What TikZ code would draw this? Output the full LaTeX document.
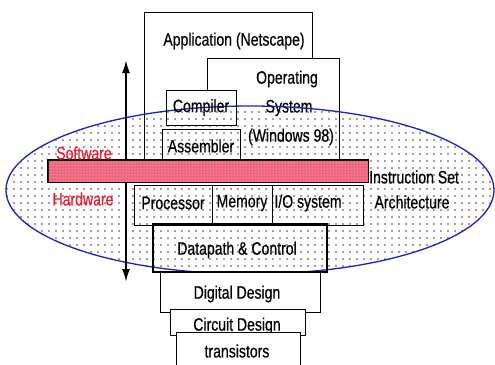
\documentclass[tikz,border=0pt]{standalone}
\usepackage{fontspec}
\setmainfont[FakeStretch=0.78, FakeBold=0.4]{Liberation Sans}
\usetikzlibrary{patterns.meta,arrows.meta}
\definecolor{ovalblue}{RGB}{30,30,200}
\definecolor{barpink}{RGB}{240,100,125}
\definecolor{labred}{RGB}{235,30,50}
\tikzset{
  box/.style={draw, line width=0.8pt, inner sep=0pt},
  lbl/.style={inner sep=0pt, font=\fontsize{18}{20}\selectfont},
  redlbl/.style={lbl, text=labred},
  stack/.style={line width=0.8pt},
}
\begin{document}
\begin{tikzpicture}[x=1pt, y=-1pt]
\useasboundingbox (0,0) rectangle (495,364);

% dotted oval for the instruction set architecture level
\fill[white] (250,190) ellipse [x radius=244, y radius=84];
\fill[pattern={Dots[distance=7pt,radius=0.9pt]}, pattern color=black!75]
  (250,190) ellipse [x radius=244, y radius=84];

% software side
\draw[stack] (144,160) -- (144,12) -- (312,12) -- (312,58);
\draw[stack] (207,90) -- (207,58) -- (339,58) -- (339,160);
\node[lbl] (app) at (234,41) {Application (Netscape)};
\node[lbl] (os1) at (287,79) {Operating};
\node[lbl] (os2) at (289,108) {System};
\node[lbl] (os3) at (291,137) {(Windows 98)};

% oval outline
\draw[ovalblue, line width=1.3pt] (250,190) ellipse [x radius=244, y radius=84];

\node[box, minimum width=70pt, minimum height=35pt] (comp) at (201,107.5) {};
\node[lbl] at (comp) {Compiler};
\node[box, minimum width=78pt, minimum height=31pt] (asm) at (201,144.5) {};
\node[lbl] at (201,146) {Assembler};

% software / hardware arrow (passes behind the bar)
\coordinate (up) at (126,60);
\coordinate (down) at (126,282);
\draw[line width=2pt, {Latex[length=13pt,width=8pt]}-{Latex[length=13pt,width=8pt]}] (up) -- (down);

% instruction set bar
\node[box, fill=barpink, minimum width=320pt, minimum height=22pt] (isa) at (208,171) {};
\fill[pattern={Dots[distance=3pt,radius=0.5pt]}, pattern color=white!80!barpink]
  (isa.north west) rectangle (isa.south east);
\draw[line width=0.8pt] (isa.north west) rectangle (isa.south east);
\node[lbl, anchor=west] (isa1) at (369,177) {Instruction Set};
\node[lbl] (isa2) at (412,202) {Architecture};
\node[redlbl] (sw) at (84,153) {Software};
\node[redlbl] (hw) at (83,199) {Hardware};

% hardware side
\node[box, minimum width=229pt, minimum height=40pt] (hwbox) at (248.5,205) {};
\draw[line width=0.8pt] (212,185) -- (212,225) (272,185) -- (272,225);
\node[lbl] (proc) at (173,203) {Processor};
\node[lbl] (mem) at (242,203) {Memory};
\node[lbl] (io) at (308,203) {I/O system};

\node[box, line width=1.4pt, minimum width=174pt, minimum height=48pt] (dp) at (240,248) {};
\node[lbl] at (237,250) {Datapath \& Control};

\node[box, fill=white, minimum width=160pt, minimum height=40pt] (dd) at (240,292) {};
\draw[line width=1.4pt] (153,272) -- (327,272);
\node[lbl] at (237,294) {Digital Design};

\node[box, fill=white, minimum width=135pt, minimum height=26pt] (cd) at (237.5,322) {};
\node[lbl] at (237,326) {Circuit Design};

\filldraw[stack, fill=white] (176,368) -- (176,332) -- (300,332) -- (300,368);
\node[lbl] (tr) at (237,351) {transistors};
\end{tikzpicture}
\end{document}
